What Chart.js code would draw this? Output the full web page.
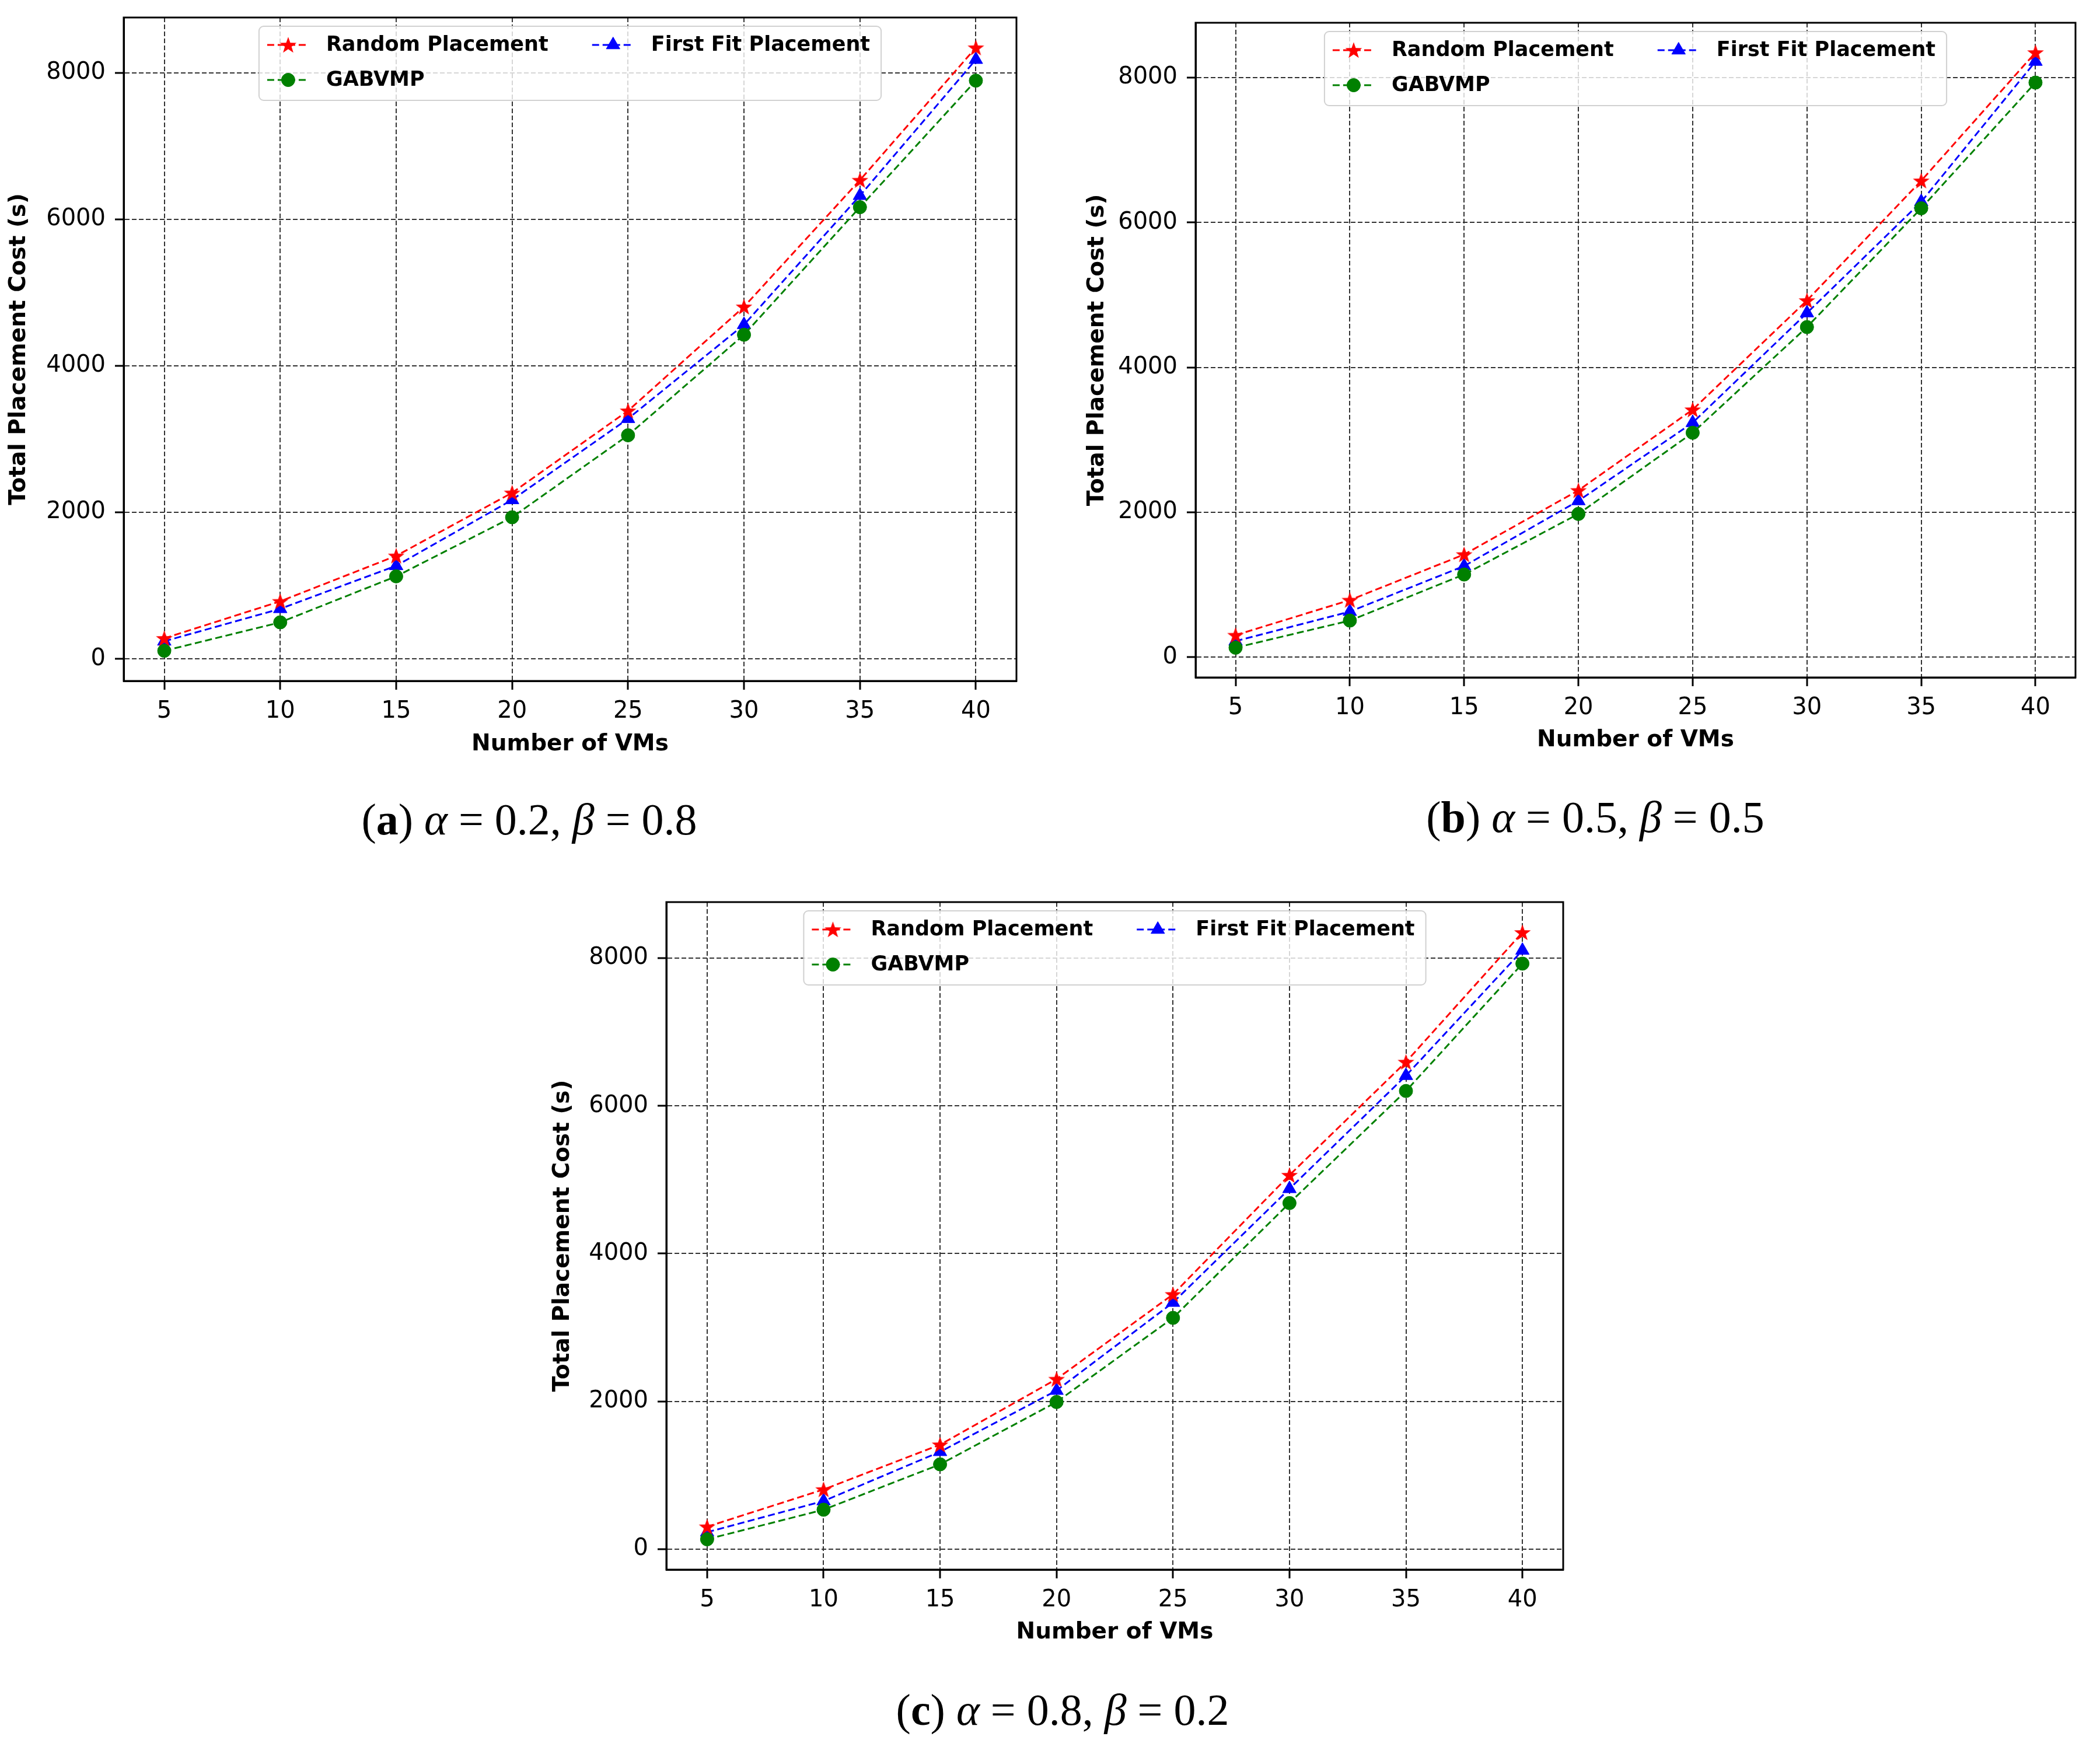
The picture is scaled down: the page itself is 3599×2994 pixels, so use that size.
<!DOCTYPE html>
<html>
<head>
<meta charset="utf-8">
<script src="https://cdn.jsdelivr.net/npm/chart.js@4.4.1/dist/chart.umd.min.js"></script>
<style>
  html, body { margin: 0; padding: 0; background: #fff; }
  body { width: 3599px; height: 2994px; position: relative; overflow: hidden; }
  canvas { position: absolute; }
  .caption { position: absolute; width: 1000px; text-align: center; white-space: nowrap;
             font-family: "Liberation Serif", "DejaVu Serif", serif; font-size: 76px; line-height: 76px; color: #000; }
</style>
</head>
<body>
<canvas id="chartA" width="1790" height="1320" style="left:0px; top:0px; width:1790px; height:1320px"></canvas>
<canvas id="chartB" width="1789" height="1320" style="left:1810px; top:0px; width:1789px; height:1320px"></canvas>
<canvas id="chartC" width="1820" height="1340" style="left:900px; top:1500px; width:1820px; height:1340px"></canvas>

<div class="caption" style="left:407px; top:1366px">(<b>a</b>) <i>α</i> = 0.2, <i>β</i> = 0.8</div>
<div class="caption" style="left:2234px; top:1362px">(<b>b</b>) <i>α</i> = 0.5, <i>β</i> = 0.5</div>
<div class="caption" style="left:1321px; top:2892px">(<b>c</b>) <i>α</i> = 0.8, <i>β</i> = 0.2</div>

<script>
// number of VMs on the x axis
const vms = [5, 10, 15, 20, 25, 30, 35, 40];
const yTicks = [0, 2000, 4000, 6000, 8000];
const seriesNames = ['Random Placement', 'GABVMP', 'First Fit Placement'];

// (a) alpha = 0.2, beta = 0.8
const randomA   = [280, 785, 1406, 2266, 3386, 4805, 6533, 8341];
const gabvmpA   = [110, 498, 1126, 1932, 3051, 4423, 6164, 7891];
const firstFitA = [240, 683, 1270, 2170, 3277, 4560, 6321, 8178];

// (b) alpha = 0.5, beta = 0.5
const randomB   = [304, 788, 1417, 2302, 3416, 4923, 6575, 8345];
const gabvmpB   = [131, 505, 1141, 1977, 3097, 4556, 6195, 7930];
const firstFitB = [221, 629, 1258, 2157, 3236, 4750, 6285, 8221];

// (c) alpha = 0.8, beta = 0.2
const randomC   = [303, 807, 1413, 2301, 3448, 5062, 6593, 8347];
const gabvmpC   = [133, 533, 1147, 1991, 3130, 4684, 6201, 7925];
const firstFitC = [229, 651, 1317, 2146, 3337, 4877, 6408, 8103];

const RED = '#ff0000', GREEN = '#008000', BLUE = '#0000ff';

// filled five point star like matplotlib '*'
function starImage(color, r) {
  const c = document.createElement('canvas');
  const s = Math.ceil(r * 2 + 4);
  c.width = s; c.height = s;
  const g = c.getContext('2d');
  g.translate(s / 2, s / 2 + r * 0.08);
  g.beginPath();
  for (let i = 0; i < 10; i++) {
    const rr = i % 2 ? r * 0.40 : r;
    const a = -Math.PI / 2 + i * Math.PI / 5;
    g.lineTo(rr * Math.cos(a), rr * Math.sin(a));
  }
  g.closePath();
  g.fillStyle = color;
  g.fill();
  return c;
}
const starRed = starImage(RED, 15);

const pairs = (ys) => vms.map((v, i) => ({ x: v, y: ys[i] }));

const frameAndLegend = {
  id: 'frameAndLegend',
  afterDatasetsDraw(chart) {
    const { ctx, chartArea: a } = chart;
    ctx.save();
    // full box round the plot
    ctx.strokeStyle = '#000';
    ctx.lineWidth = 3;
    ctx.setLineDash([]);
    ctx.strokeRect(a.left, a.top, a.right - a.left, a.bottom - a.top);

    // legend, two columns, upper center
    const ds = chart.data.datasets;
    ctx.font = 'bold 35px "DejaVu Sans"';
    const col1W = Math.max(ctx.measureText(ds[0].label).width, ctx.measureText(ds[1].label).width);
    const col2W = ctx.measureText(ds[2].label).width;
    const padL = 14, sample = 72, textGap = 29, colGap = 75, padR = 19;
    const w = padL + sample + textGap + col1W + colGap + sample + textGap + col2W + padR;
    const h = 127;
    const left = (a.left + a.right) / 2 - w / 2;
    const top = a.top + 15;

    ctx.beginPath();
    ctx.roundRect(left, top, w, h, 8);
    ctx.fillStyle = 'rgba(255,255,255,0.8)';
    ctx.fill();
    ctx.strokeStyle = 'rgba(204,204,204,0.9)';
    ctx.lineWidth = 2;
    ctx.stroke();

    const col2X = left + padL + sample + textGap + col1W + colGap;
    const slots = [
      { x: left + padL, y: top + 32 },
      { x: left + padL, y: top + 92 },
      { x: col2X, y: top + 32 }
    ];
    ds.forEach((d, i) => {
      const s = slots[i];
      ctx.strokeStyle = d.borderColor;
      ctx.lineWidth = d.borderWidth;
      ctx.setLineDash(d.borderDash);
      ctx.beginPath();
      ctx.moveTo(s.x, s.y);
      ctx.lineTo(s.x + sample, s.y);
      ctx.stroke();
      ctx.setLineDash([]);
      ctx.fillStyle = d.pointBackgroundColor;
      ctx.strokeStyle = d.pointBorderColor;
      ctx.lineWidth = 1;
      Chart.helpers.drawPoint(ctx, { pointStyle: d.pointStyle, radius: d.pointRadius, rotation: 0, borderWidth: 1 }, s.x + sample / 2, s.y);
      ctx.fillStyle = '#000';
      ctx.textAlign = 'left';
      ctx.textBaseline = 'middle';
      ctx.font = 'bold 35px "DejaVu Sans"';
      ctx.fillText(d.label, s.x + sample + textGap, s.y + 1);
    });
    ctx.restore();
  }
};

// keep the plot box where it was asked, no extra room for edge labels
function noEdgePadding(s) {
  s.paddingTop = 0; s.paddingBottom = 0; s.paddingLeft = 0; s.paddingRight = 0;
}

function makeChart(id, random, gabvmp, firstFit, L) {
  const all = random.concat(gabvmp, firstFit);
  const lo = Math.min(...all), hi = Math.max(...all);
  const ySpan = hi - lo;
  const xSpan = vms[vms.length - 1] - vms[0];

  const line = (label, ys, color, style, radius) => ({
    label: label,
    data: pairs(ys),
    borderColor: color,
    backgroundColor: color,
    borderWidth: 3,
    borderDash: [12, 6],
    pointStyle: style,
    pointRadius: radius,
    pointBackgroundColor: color,
    pointBorderColor: color,
    pointBorderWidth: 1,
    fill: false,
    tension: 0
  });

  const tickFont = { family: 'DejaVu Sans', size: 40 };
  const gridOpts = { color: '#333333', lineWidth: 2, tickLength: 15, tickColor: '#000', tickWidth: 3 };
  const borderOpts = { display: true, color: '#000', width: 3, dash: [8, 4] };

  return new Chart(document.getElementById(id), {
    type: 'line',
    data: {
      datasets: [
        line(seriesNames[0], random, RED, starRed, 13),
        line(seriesNames[1], gabvmp, GREEN, 'circle', 11.5),
        line(seriesNames[2], firstFit, BLUE, 'triangle', 13.5)
      ]
    },
    options: {
      animation: false,
      responsive: false,
      devicePixelRatio: 1,
      layout: { padding: { top: L.top, right: L.right, left: 0, bottom: 0 } },
      plugins: { legend: { display: false }, tooltip: { enabled: false } },
      scales: {
        x: {
          type: 'linear',
          min: vms[0] - 0.05 * xSpan,
          max: vms[vms.length - 1] + 0.05 * xSpan,
          afterBuildTicks: (s) => { s.ticks = vms.map(v => ({ value: v })); },
          afterFit: (s) => { s.height = L.xAxisH; noEdgePadding(s); },
          ticks: { font: tickFont, color: '#000', padding: 14, autoSkip: false, maxRotation: 0,
                   callback: (v) => String(v) },
          grid: gridOpts,
          border: borderOpts,
          title: {
            display: true, text: 'Number of VMs', color: '#000',
            font: { family: 'DejaVu Sans', size: 39, weight: 'bold' },
            padding: { top: 0, bottom: L.xTitlePad }
          }
        },
        y: {
          min: lo - 0.05 * ySpan,
          max: hi + 0.05 * ySpan,
          afterBuildTicks: (s) => { s.ticks = yTicks.map(v => ({ value: v })); },
          afterFit: (s) => { s.width = L.plotLeft; noEdgePadding(s); },
          ticks: { font: tickFont, color: '#000', padding: 16, callback: (v) => String(v) },
          grid: gridOpts,
          border: borderOpts,
          title: {
            display: true, text: 'Total Placement Cost (s)', color: '#000',
            font: { family: 'DejaVu Sans', size: 39, weight: 'bold' },
            padding: { top: L.yTitlePad, bottom: 0 }
          }
        }
      }
    },
    plugins: [frameAndLegend]
  });
}

makeChart('chartA', randomA, gabvmpA, firstFitA, { plotLeft: 212, top: 30, right: 48, xAxisH: 153, yTitlePad: 9, xTitlePad: 21 });
makeChart('chartB', randomB, gabvmpB, firstFitB, { plotLeft: 239, top: 39, right: 42, xAxisH: 159, yTitlePad: 47, xTitlePad: 28 });
makeChart('chartC', randomC, gabvmpC, firstFitC, { plotLeft: 242, top: 46, right: 41, xAxisH: 150, yTitlePad: 41, xTitlePad: 19 });
</script>
</body>
</html>
